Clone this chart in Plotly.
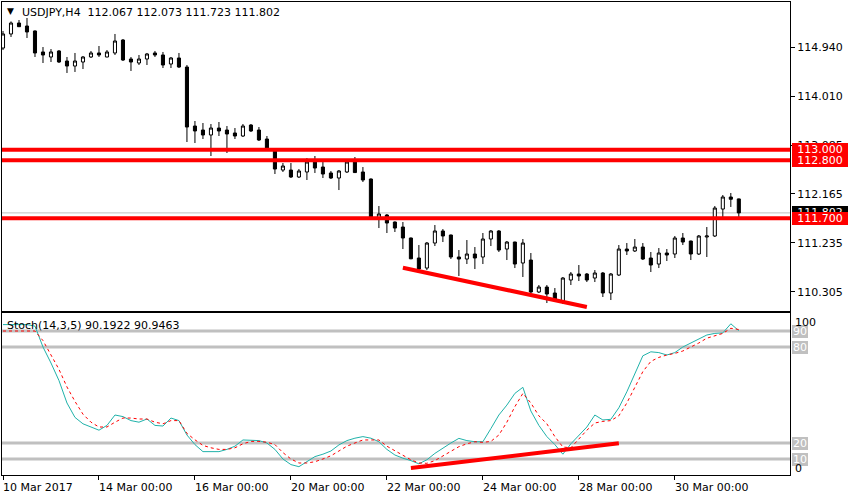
import plotly.graph_objects as go

# ---------------- data ----------------
days = ["2017-03-10", "2017-03-13", "2017-03-14", "2017-03-15", "2017-03-16", "2017-03-17",
        "2017-03-20", "2017-03-21", "2017-03-22", "2017-03-23", "2017-03-24",
        "2017-03-27", "2017-03-28", "2017-03-29", "2017-03-30", "2017-03-31"]
hours = ["00:00", "04:00", "08:00", "12:00", "16:00", "20:00"]
times = [f"{d} {h}" for d in days for h in hours][:93]

open_ = [114.926, 115.192, 115.400, 115.343, 115.249, 114.851, 114.756, 114.870, 114.680, 114.585,
         114.661, 114.756, 114.832, 114.756, 114.832, 115.078, 114.718, 114.642, 114.718, 114.832,
         114.794, 114.623, 114.737, 114.566, 113.448, 113.372, 113.278, 113.410, 113.372, 113.316,
         113.259, 113.467, 113.372, 113.202, 112.993, 112.614, 112.614, 112.482, 112.577, 112.766,
         112.671, 112.558, 112.463, 112.577, 112.766, 112.577, 112.444, 111.705, 111.762, 111.629,
         111.534, 111.326, 110.947, 110.757, 111.231, 111.459, 111.383, 110.966, 110.928, 111.023,
         110.966, 111.307, 111.459, 111.117, 111.250, 110.852, 110.909, 110.303, 110.397, 110.284,
         110.132, 110.530, 110.644, 110.644, 110.568, 110.663, 110.284, 110.625, 111.117, 111.080,
         111.155, 110.947, 110.833, 111.042, 111.023, 111.326, 111.269, 111.023, 111.345, 111.364,
         111.875, 112.103, 112.067]
high = [115.249, 115.430, 115.457, 115.495, 115.260, 114.945, 114.907, 114.888, 114.756, 114.832,
        114.775, 114.870, 114.964, 114.888, 115.192, 115.097, 114.756, 114.794, 114.832, 114.870,
        114.851, 114.756, 114.832, 114.604, 113.543, 113.505, 113.486, 113.524, 113.448, 113.410,
        113.486, 113.486, 113.429, 113.259, 113.031, 112.747, 112.747, 112.633, 112.842, 112.880,
        112.766, 112.596, 112.614, 112.804, 112.861, 112.671, 112.455, 111.932, 111.781, 111.640,
        111.629, 111.335, 111.193, 111.250, 111.572, 111.496, 111.390, 111.098, 111.288, 111.155,
        111.421, 111.477, 111.477, 111.269, 111.255, 111.307, 111.042, 110.435, 110.435, 110.378,
        110.587, 110.682, 110.814, 110.663, 110.719, 110.682, 110.663, 111.193, 111.231, 111.307,
        111.231, 111.061, 111.136, 111.117, 111.364, 111.421, 111.275, 111.383, 111.534, 111.932,
        112.141, 112.179, 112.073]
low = [114.888, 115.135, 115.324, 115.116, 114.756, 114.642, 114.661, 114.642, 114.453, 114.472,
       114.528, 114.737, 114.756, 114.750, 114.794, 114.680, 114.491, 114.604, 114.604, 114.756,
       114.547, 114.547, 114.547, 113.145, 113.126, 113.202, 112.880, 113.259, 112.937, 113.202,
       113.240, 113.335, 113.164, 112.993, 112.539, 112.577, 112.463, 112.463, 112.425, 112.558,
       112.463, 112.444, 112.235, 112.558, 112.558, 112.387, 111.705, 111.515, 111.421, 111.440,
       111.117, 110.925, 110.719, 110.719, 111.174, 111.250, 110.928, 110.606, 110.833, 110.738,
       110.833, 111.174, 111.061, 110.909, 110.757, 110.587, 110.284, 110.284, 110.094, 110.132,
       110.075, 110.435, 110.511, 110.492, 110.492, 110.208, 110.151, 110.606, 111.004, 111.061,
       110.909, 110.682, 110.757, 110.890, 110.947, 111.193, 110.909, 111.004, 110.966, 111.345,
       111.724, 111.914, 111.723]
close = [115.192, 115.400, 115.330, 115.230, 114.832, 114.794, 114.851, 114.661, 114.585, 114.680,
         114.756, 114.832, 114.794, 114.851, 115.059, 114.699, 114.661, 114.718, 114.813, 114.794,
         114.604, 114.737, 114.566, 113.429, 113.354, 113.278, 113.410, 113.354, 113.297, 113.259,
         113.448, 113.354, 113.183, 113.031, 112.633, 112.690, 112.482, 112.596, 112.766, 112.652,
         112.539, 112.463, 112.596, 112.766, 112.566, 112.425, 111.724, 111.781, 111.610, 111.515,
         111.326, 110.932, 110.738, 111.231, 111.459, 111.364, 110.966, 110.928, 111.023, 110.947,
         111.307, 111.459, 111.098, 111.250, 110.833, 111.231, 110.303, 110.397, 110.265, 110.151,
         110.568, 110.644, 110.606, 110.530, 110.663, 110.284, 110.644, 111.117, 111.080, 111.155,
         110.928, 110.814, 111.042, 111.004, 111.326, 111.250, 111.023, 111.364, 111.364, 111.894,
         112.103, 112.060, 111.802]

stoch_k = [94, 94, 94, 94, 93, 80, 70, 59, 45, 36, 32, 30, 28, 31, 37.5, 36.5, 34, 33, 35, 31,
           30.6, 35.6, 34, 25, 19, 14.6, 14.4, 14.6, 16, 18, 21.9, 21.9, 21.5, 20, 16, 10, 6.5, 5.2,
           8.5, 11.5, 13, 15, 18.8, 21.5, 23, 24, 23, 20.8, 16, 12.5, 10.5, 9, 7, 9.5, 13.5, 17, 20,
           22.9, 21.5, 20.8, 20.8, 29, 37.5, 43.7, 51, 54.8, 40, 31, 24, 19, 13, 19.5, 25, 30, 37.5,
           34.4, 34.8, 42, 52, 63, 74.5, 77, 76.5, 75, 76.5, 80, 82.5, 85, 87.5, 88.5, 88.8, 94.5,
           90.1922]
stoch_d = [90, 90, 90, 90, 90, 84, 75, 66, 55, 46, 38, 33, 30, 30, 33, 35.6, 35.6, 35, 35, 33,
           32, 34, 34, 26, 22, 18.5, 17, 16, 16, 17, 19.5, 21, 21, 20.5, 19, 14, 10, 7.5, 7.5, 8.3,
           10, 12, 15, 18, 20, 21.9, 21.9, 21.9, 18, 15, 12, 9.5, 7.5, 7.3, 9, 12, 15, 17.7, 19.5,
           20.8, 20.4, 21, 25, 33, 42.7, 51, 45, 37, 32, 24, 17.5, 17, 22.5, 28, 32.5, 33.5, 34, 37,
           45, 55, 64.6, 71, 73.5, 75, 76, 77.5, 79.8, 82.5, 85.5, 87, 88.5, 91.7, 90.9463]

price_ticks = [114.940, 114.010, 113.085, 112.165, 111.235, 110.305]
price_levels = [112.800, 113.000, 111.700]      # drawn in this order (113.000 label on top)
stoch_levels = [90, 80, 20, 10]

trend_main_bars = [50, 73]
trend_main_price = [110.763, 110.019]
trend_stoch_bars = [51, 77]
trend_stoch_value = [4.4, 19.8]

date_ticks = ["2017-03-10 00:00", "2017-03-14 00:00", "2017-03-16 00:00", "2017-03-20 00:00",
              "2017-03-22 00:00", "2017-03-24 00:00", "2017-03-28 00:00", "2017-03-30 00:00"]
date_labels = ["10 Mar 2017", "14 Mar 00:00", "16 Mar 00:00", "20 Mar 00:00",
               "22 Mar 00:00", "24 Mar 00:00", "28 Mar 00:00", "30 Mar 00:00"]

# ---------------- figure ----------------
FONT = "DejaVu Sans"
W, H = 850, 500
ML, MR, MT, MB = 2, 60, 2, 25
PW, PH = W - ML - MR, H - MT - MB


def px(x):
    return (x - ML) / PW


def py(y):
    return (H - MB - y) / PH


fig = go.Figure()

fig.add_trace(go.Candlestick(
    x=times, open=open_, high=high, low=low, close=close,
    increasing=dict(line=dict(color="black", width=1), fillcolor="white"),
    decreasing=dict(line=dict(color="black", width=1), fillcolor="black"),
    hoverinfo="skip", showlegend=False, xaxis="x", yaxis="y"))

fig.add_trace(go.Scatter(
    x=[times[i] for i in trend_main_bars], y=trend_main_price, mode="lines",
    line=dict(color="#FF0000", width=4), hoverinfo="skip", showlegend=False,
    xaxis="x", yaxis="y"))

fig.add_trace(go.Scatter(
    x=times, y=stoch_k, mode="lines", line=dict(color="#20B2AA", width=1),
    hoverinfo="skip", showlegend=False, xaxis="x2", yaxis="y2"))
fig.add_trace(go.Scatter(
    x=times, y=stoch_d, mode="lines", line=dict(color="#FF0000", width=1, dash="dot"),
    hoverinfo="skip", showlegend=False, xaxis="x2", yaxis="y2"))
fig.add_trace(go.Scatter(
    x=[times[i] for i in trend_stoch_bars], y=trend_stoch_value, mode="lines",
    line=dict(color="#FF0000", width=4), hoverinfo="skip", showlegend=False,
    xaxis="x2", yaxis="y2"))

xr = [-0.125, 98.4]
main_dom = [py(311), 1]
stoch_dom = [0, py(313)]

shapes = []
shapes.append(dict(type="line", xref="paper", x0=0, x1=1, yref="y", y0=close[-1], y1=close[-1],
                   line=dict(color="#C0C0C0", width=1), layer="below"))
for lv in price_levels:
    shapes.append(dict(type="line", xref="paper", x0=0, x1=1, yref="y", y0=lv, y1=lv,
                       line=dict(color="#FF0000", width=4), layer="above"))
for lv in stoch_levels:
    shapes.append(dict(type="line", xref="paper", x0=0, x1=1, yref="y2", y0=lv, y1=lv,
                       line=dict(color="#C0C0C0", width=3), layer="below"))

ann = []
ann.append(dict(text="▼", xref="paper", yref="paper", x=px(10.5), y=py(11), xanchor="center",
                yanchor="middle", showarrow=False, font=dict(family=FONT, size=9, color="black")))
ann.append(dict(text="USDJPY,H4  112.067 112.073 111.723 111.802", xref="paper", yref="paper",
                x=px(20), y=py(12), xanchor="left", yanchor="middle", showarrow=False,
                font=dict(family=FONT, size=11, color="#000000")))
ann.append(dict(text="Stoch(14,3,5) 90.1922 90.9463", xref="paper", yref="paper",
                x=px(5), y=py(325), xanchor="left", yanchor="middle", showarrow=False,
                font=dict(family=FONT, size=11, color="black")))
for t, lab in zip(date_ticks, date_labels):
    ann.append(dict(text=lab, xref="x2", yref="paper", x=t, y=py(487), xanchor="left",
                    yanchor="middle", showarrow=False, xshift=-2,
                    font=dict(family=FONT, size=11, color="black")))
# current price (bid) label
ann.append(dict(text=f"{close[-1]:.3f}", xref="paper", yref="y", x=px(792), y=close[-1],
                xanchor="left", yanchor="middle", showarrow=False, bgcolor="black",
                width=54, height=11, borderpad=1, borderwidth=0,
                font=dict(family=FONT, size=11, color="white")))
for lv in price_levels:
    ann.append(dict(text=f"{lv:.3f}", xref="paper", yref="y", x=px(792), y=lv,
                    xanchor="left", yanchor="middle", showarrow=False, bgcolor="#FF0000",
                    width=54, height=11, borderpad=1, borderwidth=0,
                    font=dict(family=FONT, size=11, color="white")))
for lv in stoch_levels:
    ann.append(dict(text=str(lv), xref="paper", yref="y2", x=px(792), y=lv,
                    xanchor="left", yanchor="middle", showarrow=False, bgcolor="#C0C0C0",
                    width=14, height=11, borderpad=1, borderwidth=0,
                    font=dict(family=FONT, size=11, color="white")))
ann.append(dict(text="100", xref="paper", yref="paper", x=px(793), y=py(322), xanchor="left",
                yanchor="middle", showarrow=False, font=dict(family=FONT, size=11, color="black")))
ann.append(dict(text="0", xref="paper", yref="paper", x=px(793), y=py(468), xanchor="left",
                yanchor="middle", showarrow=False, font=dict(family=FONT, size=11, color="black")))

fig.update_layout(
    width=W, height=H,
    margin=dict(l=ML, r=MR, t=MT, b=MB, pad=0),
    paper_bgcolor="white", plot_bgcolor="white",
    showlegend=False, boxgap=0.45,
    font=dict(family=FONT, size=11, color="black"),
    xaxis=dict(type="category", categoryorder="array", categoryarray=times, range=xr,
               domain=[0, 1], anchor="y", showline=True, mirror=True, linecolor="black",
               linewidth=1, showgrid=False, zeroline=False, showticklabels=False, ticks="",
               rangeslider=dict(visible=False), fixedrange=True),
    yaxis=dict(domain=main_dom, range=[109.943, 115.798], anchor="x", side="right",
               showline=True, mirror=True, linecolor="black", linewidth=1, showgrid=False,
               zeroline=False, ticks="outside", ticklen=4, tickcolor="black",
               tickvals=price_ticks, ticktext=[f"{v:.3f}" for v in price_ticks],
               tickfont=dict(family=FONT, size=11, color="black"), fixedrange=True),
    xaxis2=dict(type="category", categoryorder="array", categoryarray=times, range=xr,
                domain=[0, 1], anchor="y2", showline=True, mirror=True, linecolor="black",
                linewidth=1, showgrid=False, zeroline=False, showticklabels=False,
                ticks="outside", ticklen=4, tickcolor="black", tickvals=date_ticks,
                fixedrange=True),
    yaxis2=dict(domain=stoch_dom, range=[0, 101.25], anchor="x2", side="right",
                showline=True, mirror=True, linecolor="black", linewidth=1, showgrid=False,
                zeroline=False, showticklabels=False, ticks="", fixedrange=True),
    shapes=shapes,
    annotations=ann,
)

fig.write_html("out.html", config={"displayModeBar": False, "staticPlot": True},
               post_script="document.body.style.margin='0px';document.body.style.overflow='hidden';")
